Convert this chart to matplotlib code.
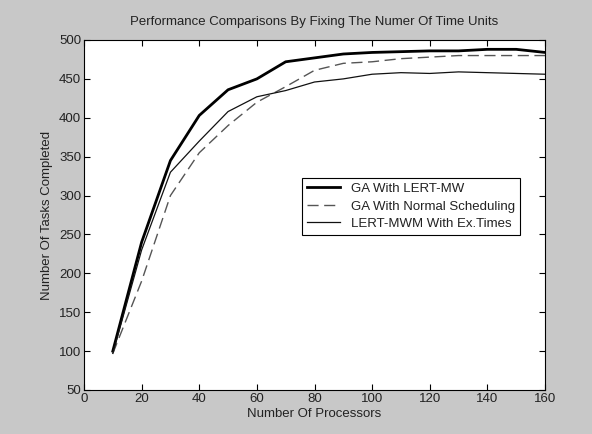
import matplotlib
matplotlib.use("Agg")
import matplotlib.pyplot as plt

plt.rcParams['font.family'] = ['Liberation Sans', 'DejaVu Sans']

processors = [10, 20, 30, 40, 50, 60, 70, 80, 90, 100, 110, 120, 130, 140, 150, 160]
ga_lert = [100, 240, 345, 403, 436, 450, 472, 477, 482, 484, 485, 486, 486, 488, 488, 484]
ga_normal = [97, 190, 300, 355, 390, 420, 440, 461, 470, 472, 476, 478, 480, 480, 480, 480]
lert_mwm = [97, 230, 330, 370, 408, 427, 435, 446, 450, 456, 458, 457, 459, 458, 457, 456]

txt = '#222222'
fs = 9.5

fig = plt.figure(figsize=(5.92, 4.34), dpi=100, facecolor='#c8c8c8')
ax = fig.add_axes([84 / 592, 44 / 434, 461 / 592, 350 / 434])
ax.set_facecolor('white')

ax.plot(processors, ga_lert, color='black', lw=2.0, label='GA With LERT-MW')
ax.plot(processors, ga_normal, color='#555555', lw=1.0, dashes=(8, 4), label='GA With Normal Scheduling')
ax.plot(processors, lert_mwm, color='#111111', lw=0.9, label='LERT-MWM With Ex.Times')

ax.set_xlim(0, 160)
ax.set_ylim(50, 500)
ax.set_xticks(range(0, 161, 20))
ax.set_yticks(range(50, 501, 50))
ax.tick_params(direction='in', length=4, labelsize=fs, top=True, right=True,
               labeltop=False, labelright=False, width=0.8, labelcolor=txt, pad=2)
for s in ax.spines.values():
    s.set_linewidth(0.8)

ax.set_xlabel('Number Of Processors', fontsize=fs, labelpad=2, color=txt)
ax.set_ylabel('Number Of Tasks Completed', fontsize=fs, labelpad=4, color=txt)
ax.set_title('Performance Comparisons By Fixing The Numer Of Time Units', fontsize=fs,
             pad=11, color=txt)

leg = ax.legend(loc='upper left', bbox_to_anchor=(0.473, 0.607), fontsize=fs,
                fancybox=False, framealpha=1, edgecolor='black', borderpad=0.4,
                labelspacing=0.4, handlelength=2.5, borderaxespad=0)
leg.get_frame().set_linewidth(0.8)
for t in leg.get_texts():
    t.set_color(txt)

fig.savefig('out.png', dpi=100, facecolor=fig.get_facecolor())
